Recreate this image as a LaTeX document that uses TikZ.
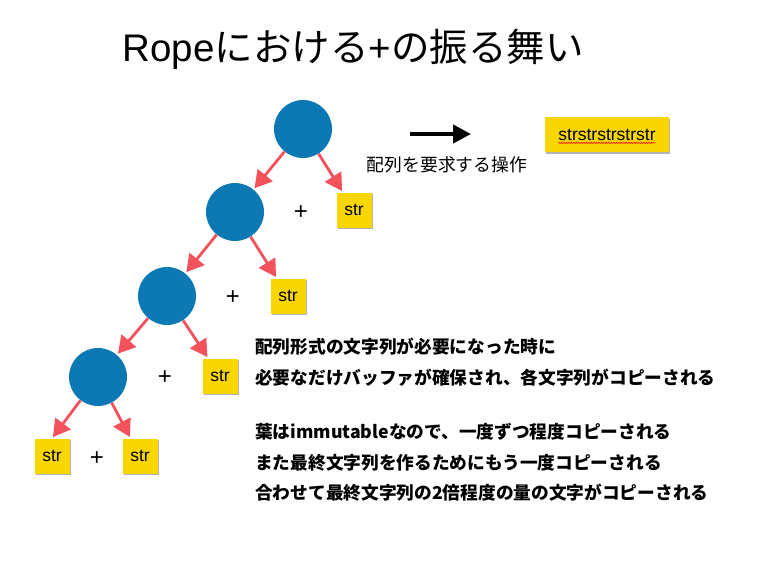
\documentclass[tikz,border=0pt]{standalone}
\usepackage{fontspec}
\setmainfont{Liberation Sans}
\newfontfamily\jp{Noto Sans CJK JP}
\usetikzlibrary{arrows.meta,shadows,decorations.pathmorphing}

\definecolor{nodeblue}{RGB}{12,121,180}
\definecolor{stryellow}{RGB}{249,214,0}
\definecolor{arrowred}{RGB}{243,82,92}

\tikzset{
  ropenode/.style={circle, fill=nodeblue, minimum size=58pt, inner sep=0pt},
  leaf/.style={fill=stryellow, minimum width=35pt, minimum height=35pt, inner sep=0pt,
    font=\fontsize{17.5}{17.5}\selectfont,
    drop shadow={shadow xshift=1pt, shadow yshift=-1.5pt, opacity=0.3, fill=black}},
  child/.style={arrowred, line width=2.8pt, -{Triangle[length=17pt,width=19pt]}, shorten >=1.5pt},
  plus/.style={font=\fontsize{24}{24}\selectfont, inner sep=0pt},
  note/.style={anchor=base west, inner sep=0pt, font=\jp\bfseries\fontsize{17.7}{17.7}\selectfont},
}

\begin{document}
\begin{tikzpicture}[x=1pt, y=-1pt]
  \useasboundingbox (0,0) rectangle (761,565);

  % title
  \node[anchor=base, inner sep=0pt, font=\fontsize{38.5}{38.5}\selectfont] (title) at (353,61)
    {Rope{\jp における}+{\jp の振る舞い}};

  % rope tree
  \node[ropenode] (c1) at (303,129) {};
  \node[ropenode] (c2) at (235,212) {};
  \node[ropenode] (c3) at (167,296) {};
  \node[ropenode] (c4) at (98,377) {};

  \node[leaf] (s1) at (354,210) {str};
  \node[leaf] (s2) at (288,296) {str};
  \node[leaf] (s3) at (220,376) {str};
  \node[leaf] (s4) at (52,456) {str};
  \node[leaf] (s5) at (140,456) {str};

  \node[plus] (p1) at (301,213) {+};
  \node[plus] (p2) at (233,298) {+};
  \node[plus] (p3) at (165,378) {+};
  \node[plus] (p4) at (97,459) {+};

  \draw[child] (c1) -- (c2);
  \draw[child] (c1) -- (s1);
  \draw[child] (c2) -- (c3);
  \draw[child] (c2) -- (s2);
  \draw[child] (c3) -- (c4);
  \draw[child] (c3) -- (s3);
  \draw[child] (c4) -- (s4.north);
  \draw[child] (c4) -- (s5);

  % flattening operation
  \coordinate (a1) at (410,134);
  \coordinate (a2) at (471,134);
  \draw[line width=4pt, -{Triangle[length=18pt,width=18pt]}] (a1) -- (a2);
  \node[anchor=base, inner sep=0pt, font=\jp\fontsize{17.8}{17.8}\selectfont] (op) at (447,171)
    {配列を要求する操作};

  \node[leaf, minimum width=124pt] (flat) at (607,134.5) {};
  \node[inner sep=0pt, font=\fontsize{17.5}{17.5}\selectfont] (flattxt) at (flat.center) {strstrstrstrstr};
  \draw[red, line width=0.6pt, decorate, decoration={snake, amplitude=0.6pt, segment length=2.5pt}]
    ([yshift=-2.5pt]flattxt.south west) -- ([yshift=-2.5pt]flattxt.south east);

  % explanation
  \node[note] (n1) at (255,353) {配列形式の文字列が必要になった時に};
  \node[note] (n2) at (255,384) {必要なだけバッファが確保され、各文字列がコピーされる};
  \node[note] (n3) at (255,438) {葉はimmutableなので、一度ずつ程度コピーされる};
  \node[note] (n4) at (255,469) {また最終文字列を作るためにもう一度コピーされる};
  \node[note] (n5) at (255,499) {合わせて最終文字列の2倍程度の量の文字がコピーされる};
\end{tikzpicture}
\end{document}
